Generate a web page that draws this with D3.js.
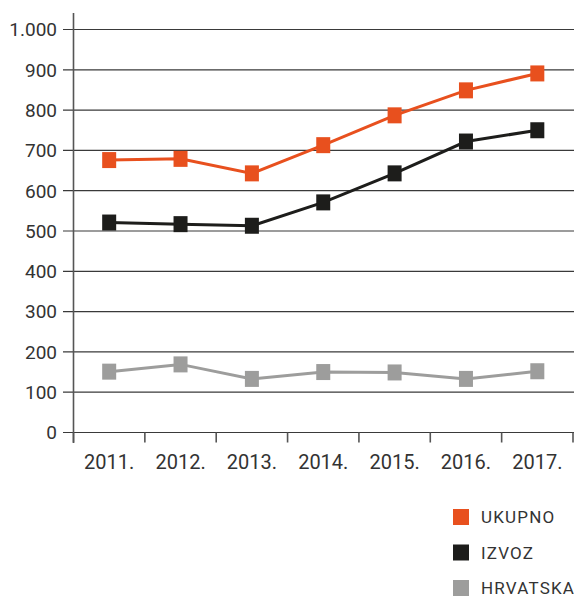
<!DOCTYPE html>
<html>
<head>
<meta charset="utf-8">
<script src="https://cdn.jsdelivr.net/npm/d3@7"></script>
<style>
  html, body { margin: 0; padding: 0; background: #fff; }
  svg { display: block; font-family: Roboto, "Liberation Sans", sans-serif; }
</style>
</head>
<body>
<svg id="chart" width="574" height="597"></svg>
<script>
// chart values
var years = ["2011.", "2012.", "2013.", "2014.", "2015.", "2016.", "2017."];
var ukupno = [676, 679, 643, 713, 787, 849, 891];
var izvoz = [521, 517, 513, 571, 643, 722, 750];
var hrvatska = [151, 169, 133, 150, 149, 133, 152];
var seriesNames = ["UKUPNO", "IZVOZ", "HRVATSKA"];
var seriesColors = ["#e8501e", "#1d1d1b", "#9d9d9c"];
var yTicks = [0, 100, 200, 300, 400, 500, 600, 700, 800, 900, 1000];

var svg = d3.select("#chart");
var x = d3.scaleBand().domain(years).range([73.5, 573]);
var y = d3.scaleLinear().domain([0, 1000]).range([432.5, 29.5]);

var fmt = function(d) { return d3.format(",")(d).replace(/,/g, "."); };

// gridlines
svg.append("g").selectAll("line")
    .data(yTicks)
    .enter().append("line")
    .attr("x1", 63).attr("x2", 574)
    .attr("y1", function(d) { return y(d); })
    .attr("y2", function(d) { return y(d); })
    .style("stroke", "#3a3a3a")
    .style("stroke-width", 1.2);

// y labels
svg.append("g").selectAll("text")
    .data(yTicks)
    .enter().append("text")
    .attr("x", 57)
    .attr("y", function(d) { return y(d); })
    .attr("dy", "0.36em")
    .attr("text-anchor", "end")
    .style("font-size", "19px")
    .style("fill", "#333")
    .text(fmt);

// y axis line
svg.append("line")
    .attr("x1", 73.5).attr("x2", 73.5)
    .attr("y1", 13).attr("y2", 443)
    .style("stroke", "#555").style("stroke-width", 1.6);

// x axis with ticks at band boundaries
var xAxis = d3.axisBottom(x).tickSize(0).tickPadding(22);
var gx = svg.append("g").attr("transform", "translate(0," + y(0) + ")").call(xAxis);
gx.select(".domain").remove();
gx.selectAll("text").style("font-size", "20px").style("fill", "#333")
    .style("font-family", "Roboto, sans-serif");

var bounds = years.map(function(d) { return x(d); }).concat([x.range()[1]]);
svg.append("g").selectAll("line")
    .data(bounds)
    .enter().append("line")
    .attr("x1", function(d) { return d; })
    .attr("x2", function(d) { return d; })
    .attr("y1", y(0)).attr("y2", y(0) + 10)
    .style("stroke", "#555").style("stroke-width", 1.6);

// series
var allSeries = [hrvatska, izvoz, ukupno];
var allColors = [seriesColors[2], seriesColors[1], seriesColors[0]];
var cx = function(d, i) { return x(years[i]) + x.bandwidth() / 2; };

var line = d3.line()
    .x(cx)
    .y(function(d) { return y(d); });

allSeries.forEach(function(vals, k) {
    var g = svg.append("g");
    g.append("path")
        .datum(vals)
        .attr("d", line)
        .style("fill", "none")
        .style("stroke", allColors[k])
        .style("stroke-width", 3);
    g.selectAll("rect")
        .data(vals)
        .enter().append("rect")
        .attr("x", function(d, i) { return cx(d, i) - 7; })
        .attr("y", function(d) { return y(d) - 8; })
        .attr("width", 14)
        .attr("height", 16)
        .style("fill", allColors[k]);
});

// legend
var legend = svg.append("g").selectAll("g")
    .data(seriesNames)
    .enter().append("g")
    .attr("transform", function(d, i) { return "translate(453," + (517 + i * 35.5) + ")"; });

legend.append("rect")
    .attr("x", 0).attr("y", -8)
    .attr("width", 16).attr("height", 16)
    .style("fill", function(d, i) { return seriesColors[i]; });

legend.append("text")
    .attr("x", 28)
    .attr("dy", "0.36em")
    .style("font-size", "17px")
    .style("letter-spacing", "1.2px")
    .style("fill", "#333")
    .text(function(d) { return d; });
</script>
</body>
</html>
